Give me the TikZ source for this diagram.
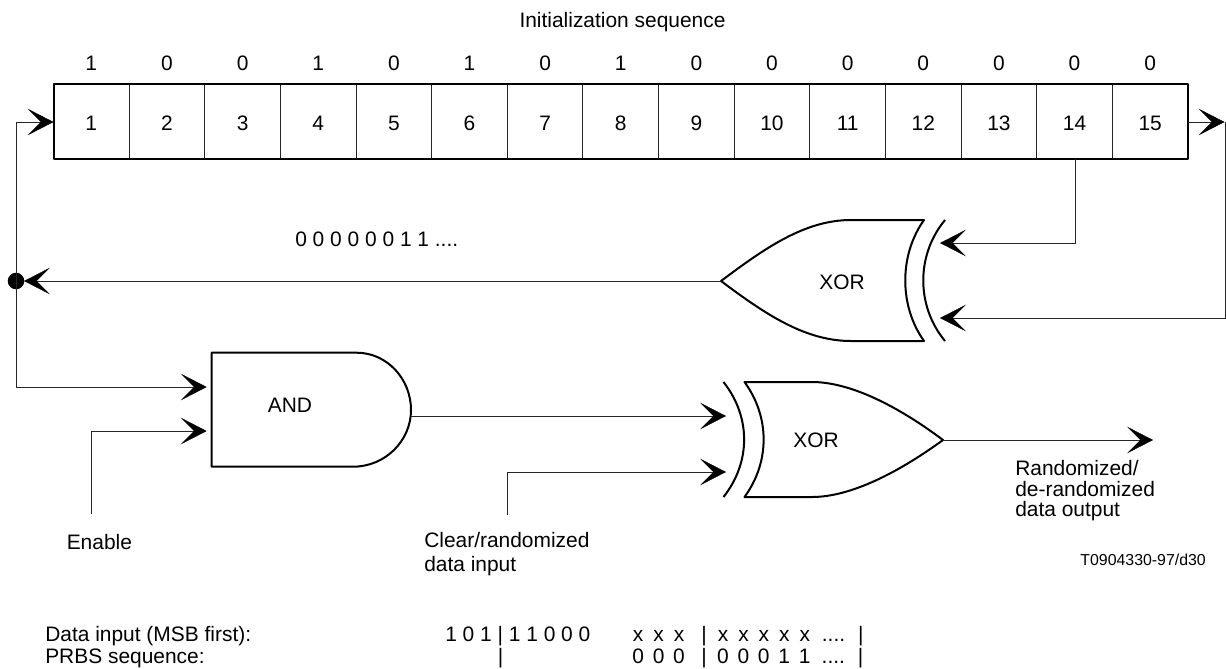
\documentclass[tikz,border=0pt]{standalone}
\usepackage{fontspec}
\setmainfont{Liberation Sans}
\usetikzlibrary{arrows.meta}
\tikzset{
  px/.style={x=0.75pt,y=-0.75pt},
  thinline/.style={draw=black!85,line width=0.75pt},
  heavy/.style={draw=black,line width=1.5pt,line join=round},
  tip/.style={-{Stealth[length=19.5pt,width=20pt,inset=10pt,line width=0.3pt,color=black,fill=black]}},
  lbl/.style={inner sep=0pt,font=\fontsize{15.7pt}{18pt}\selectfont,text=black,anchor=base},
  lblL/.style={lbl,anchor=base west,align=left},
}
\begin{document}
\begin{tikzpicture}[px]
\useasboundingbox (0,0) rectangle (1226,668);
% register
\foreach \i [evaluate=\i as \xc using {53.5+75.63*(\i-0.5)}] in {1,...,15}{
  \node[lbl] (c\i) at (\xc,130) {\i};
}
\foreach \i/\b [evaluate=\i as \xc using {53.5+75.63*(\i-0.5)}] in {1/1,2/0,3/0,4/1,5/0,6/1,7/0,8/1,9/0,10/0,11/0,12/0,13/0,14/0,15/0}{
  \node[lbl] (b\i) at (\xc,70) {\b};
}
\foreach \i [evaluate=\i as \xl using {53.5+75.63*\i}] in {1,...,14}{
  \draw[thinline] (\xl,83.5) -- (\xl,159);
}
\draw[heavy] (53.5,83.5) rectangle (1188,159);
\coordinate (regL) at (53.5,122);
\coordinate (regR) at (1188,122);
\node[lbl] (title) at (622.5,27.7) {Initialization sequence};
% junction
\coordinate (j) at (16,281);
\fill (j) circle (6.2pt);
\coordinate (fbtop) at (16,122);
\draw[thinline,tip] (j) -- (fbtop) -- (regL);
\coordinate (outtip) at (1224.5,122);
\draw[thinline,tip] (regR) -- (outtip);
% upper XOR
\coordinate (xu) at (721,281);
\draw[heavy] (xu) .. controls (765,248) and (805,220) .. (851,220) -- (924,220)
  .. controls (899,255) and (899,306) .. (924,341) -- (851,341)
  .. controls (805,341) and (765,314) .. (xu) -- cycle;
\draw[heavy] (945,220) .. controls (916,255) and (916,306) .. (945,341);
\node[lbl] (xorU) at (842,289) {XOR};
\coordinate (t14) at (1075,159);
\coordinate (u1c) at (1075,243);
\coordinate (u1) at (940,243);
\draw[thinline,tip] (t14) -- (u1c) -- (u1);
\coordinate (r15) at (1225,122);
\coordinate (u2c) at (1225,318);
\coordinate (u2) at (940,318);
\draw[thinline,tip] (r15) -- (u2c) -- (u2);
\draw[thinline,tip] (xu) -- (24,281);
\node[lbl,anchor=base west] (seq) at (295,246.7) {0 0 0 0 0 0 1 1 ....};
% AND
\coordinate (ando) at (411,416);
\draw[heavy] (211.7,352.7) -- (356.7,352.7) .. controls (387,352.7) and (411,379) .. (411,410)
  .. controls (411,441) and (385,466.7) .. (353,466.7) -- (211.7,466.7) -- cycle;
\node[lbl] (and) at (290,412.7) {AND};
\coordinate (a1) at (206.7,387);
\coordinate (a2) at (206.7,431);
\draw[thinline,tip] (j) -- (16,387) -- (a1);
\coordinate (en) at (91.7,514);
\draw[thinline,tip] (en) -- (91.7,431) -- (a2);
\node[lblL] (enable) at (66.5,549) {Enable};
% lower XOR
\coordinate (xo) at (943,440);
\draw[heavy] (744.5,382) .. controls (770,417) and (770,462) .. (744.5,497) -- (812,497)
  .. controls (851,497) and (899,472) .. (xo)
  .. controls (899,407) and (851,382) .. (812,382) -- cycle;
\draw[heavy] (723.5,382) .. controls (751,417) and (751,462) .. (723.5,497);
\node[lbl] (xorL) at (816,447) {XOR};
\coordinate (b1) at (726,416);
\coordinate (b2) at (726,472);
\draw[thinline,tip] (ando) -- (b1);
\coordinate (cl) at (507.7,515);
\draw[thinline,tip] (cl) -- (507.7,472) -- (b2);
\coordinate (o) at (1153,440);
\draw[thinline,tip] (xo) -- (o);
\node[lbl,anchor=west,align=left,font=\fontsize{15.7pt}{15.4pt}\selectfont] (rand) at (1015,491) {Randomized/\\de-randomized\\data output};
\node[lbl,anchor=west,align=left,font=\fontsize{15.7pt}{17.8pt}\selectfont] (clear) at (424,554) {Clear/randomized\\data input};
\node[inner sep=0pt,font=\fontsize{11.9pt}{14pt}\selectfont,anchor=base east] (ref) at (1206,565) {T0904330-97/d30};
% bottom
\node[lblL] (d1) at (45,641) {Data input (MSB first):};
\node[lblL] (d2) at (45,663) {PRBS sequence:};
\node[lblL] (d3) at (445,641) {1 0 1 | 1 1 0 0 0};
\node[lbl] (d4) at (500.7,663) {|};
\node[lblL] (d5) at (632.7,641) {\spaceskip=7.5pt\relax x x x \hspace{5.2pt}| \hspace{0.8pt}x x x x x \hspace{1.3pt}.... \hspace{0.8pt}|};
\node[lblL] (d6) at (632.1,663) {\spaceskip=6.6pt\relax 0 0 0 \hspace{5.7pt}| \hspace{1.2pt}0 0 0 1 1 \hspace{1.8pt}.... \hspace{1.65pt}|};
\end{tikzpicture}
\end{document}
